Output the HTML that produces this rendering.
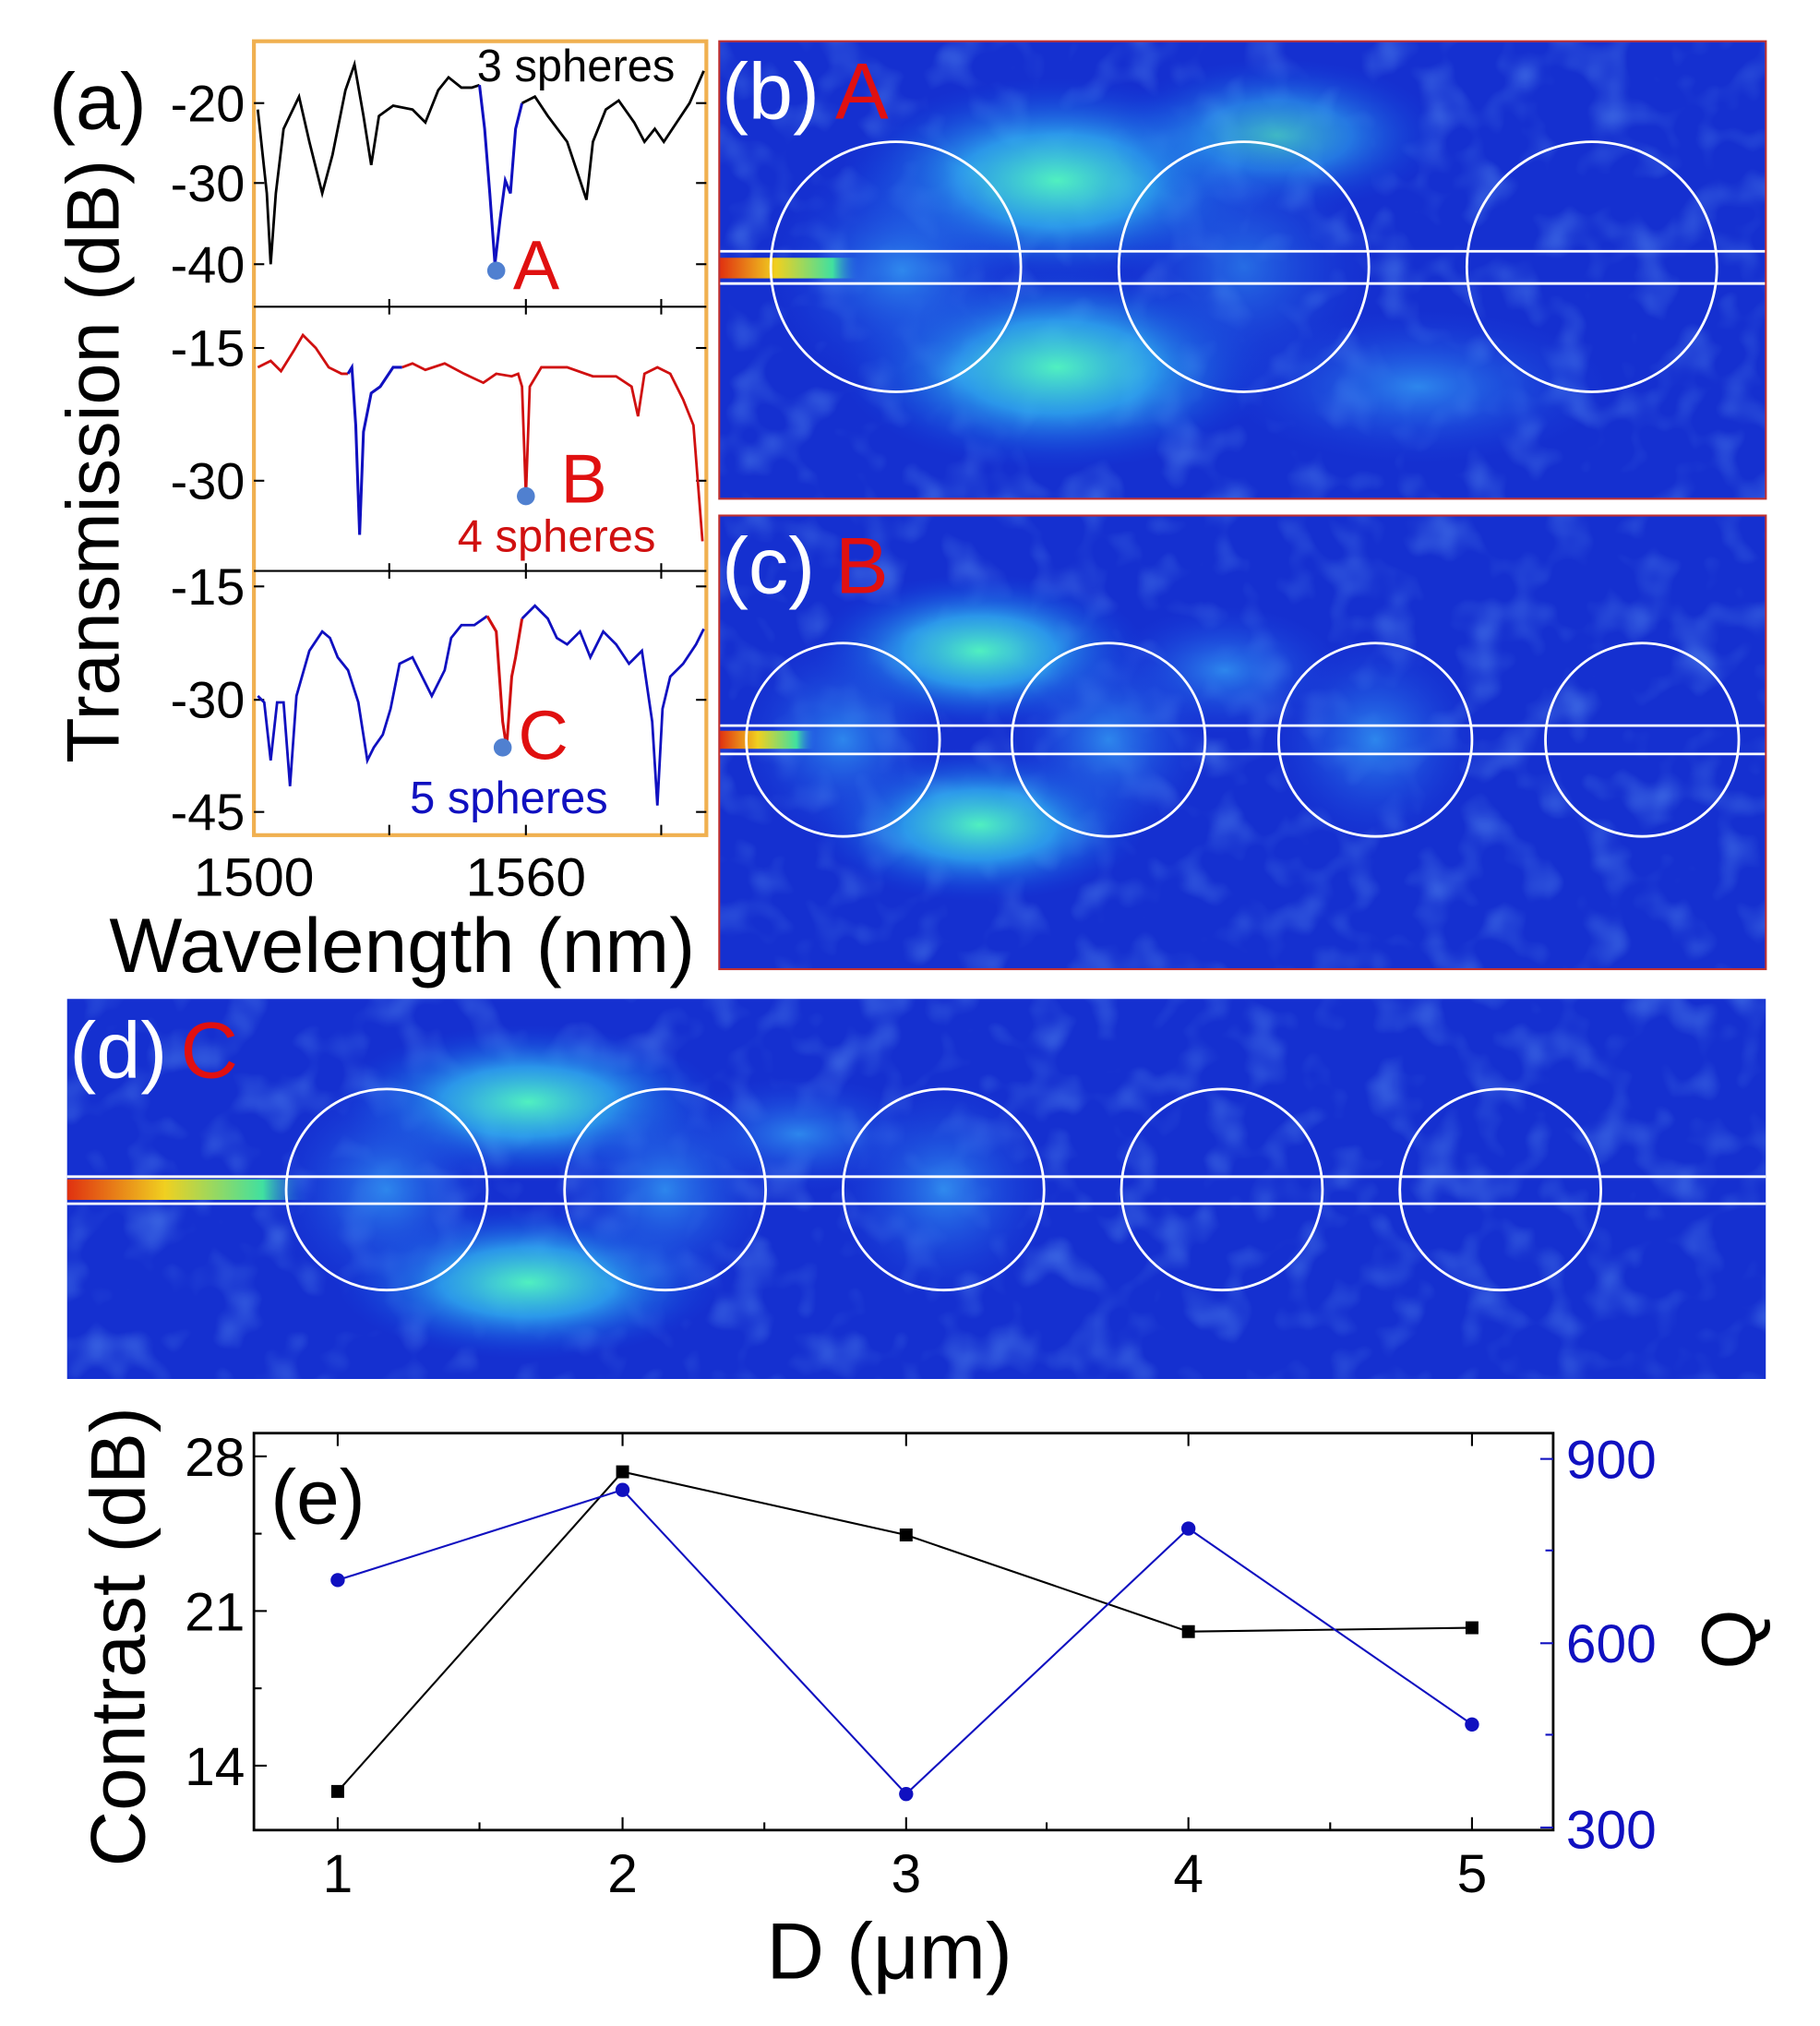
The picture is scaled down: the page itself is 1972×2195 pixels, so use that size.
<!DOCTYPE html>
<html><head><meta charset="utf-8"><style>html,body{margin:0;padding:0;background:#fff}svg{display:block}</style></head>
<body>
<svg width="1972" height="2195" viewBox="0 0 1412 1572" preserveAspectRatio="none" xmlns="http://www.w3.org/2000/svg" font-family="Liberation Sans, sans-serif">
<defs>
<radialGradient id="glow" cx="50%" cy="50%" r="50%"><stop offset="0" stop-color="#50f0c0" stop-opacity="1"/><stop offset="0.45" stop-color="#30b0f0" stop-opacity="0.8"/><stop offset="1" stop-color="#1040e0" stop-opacity="0"/></radialGradient>
<radialGradient id="glow2" cx="50%" cy="50%" r="50%"><stop offset="0" stop-color="#3090f0" stop-opacity="0.9"/><stop offset="1" stop-color="#1a40e0" stop-opacity="0"/></radialGradient>
<linearGradient id="beam" x1="0" x2="1"><stop offset="0" stop-color="#e03010"/><stop offset="0.4" stop-color="#f0d020"/><stop offset="0.8" stop-color="#40e0a0"/><stop offset="1" stop-color="#2060f0" stop-opacity="0"/></linearGradient>
<filter id="tex" x="0" y="0" width="100%" height="100%"><feTurbulence type="fractalNoise" baseFrequency="0.03" numOctaves="2" seed="3"/><feColorMatrix type="matrix" values="0 0 0 0 0.15  0 0 0 0 0.40  0 0 0 0 0.95  0 0 0 1.0 -0.5"/></filter>
<clipPath id="cb"><rect x="558" y="32" width="812" height="355"/></clipPath>
<clipPath id="cc"><rect x="558" y="400" width="812" height="352"/></clipPath>
<clipPath id="cd"><rect x="52" y="775" width="1318" height="295"/></clipPath>
</defs>

<!-- Panel (a) -->
<rect x="197" y="32" width="351" height="616" fill="#fff" stroke="#f0b050" stroke-width="3"/>
<line x1="197" y1="238" x2="548" y2="238" stroke="#000" stroke-width="1.5"/>
<line x1="197" y1="443" x2="548" y2="443" stroke="#000" stroke-width="1.5"/>
<g stroke="#000" stroke-width="1.5">
<line x1="197" y1="80" x2="205" y2="80"/><line x1="197" y1="142" x2="205" y2="142"/><line x1="197" y1="205" x2="205" y2="205"/>
<line x1="197" y1="270" x2="205" y2="270"/><line x1="197" y1="373" x2="205" y2="373"/>
<line x1="197" y1="455" x2="205" y2="455"/><line x1="197" y1="543" x2="205" y2="543"/><line x1="197" y1="630" x2="205" y2="630"/>
<line x1="540" y1="80" x2="548" y2="80"/><line x1="540" y1="142" x2="548" y2="142"/><line x1="540" y1="205" x2="548" y2="205"/>
<line x1="540" y1="270" x2="548" y2="270"/><line x1="540" y1="373" x2="548" y2="373"/>
<line x1="540" y1="455" x2="548" y2="455"/><line x1="540" y1="543" x2="548" y2="543"/><line x1="540" y1="630" x2="548" y2="630"/>
<line x1="302" y1="232" x2="302" y2="244"/><line x1="408" y1="232" x2="408" y2="244"/><line x1="513" y1="232" x2="513" y2="244"/>
<line x1="302" y1="437" x2="302" y2="449"/><line x1="408" y1="437" x2="408" y2="449"/><line x1="513" y1="437" x2="513" y2="449"/>
<line x1="302" y1="640" x2="302" y2="648"/><line x1="408" y1="640" x2="408" y2="648"/><line x1="513" y1="640" x2="513" y2="648"/>
</g>
<polyline fill="none" stroke="#000" stroke-width="2" points="200,85 207,150 210,205 214,150 220,100 232,75 240,110 250,150 258,120 268,70 275,50 282,90 288,128 294,90 305,82 320,85 330,95 340,70 348,60 358,68 366,68 372,66"/>
<polyline fill="none" stroke="#1010c0" stroke-width="2.2" points="372,66 376,100 380,150 384,205 388,170 392,140 396,150 400,100 405,80"/>
<polyline fill="none" stroke="#000" stroke-width="2" points="405,80 415,75 425,90 440,110 450,140 455,155 460,110 470,85 480,78 492,95 500,110 508,100 515,110 525,95 535,80 546,55"/>
<polyline fill="none" stroke="#d01010" stroke-width="2" points="200,285 210,280 218,288 228,272 235,260 245,270 255,285 265,290 270,290"/>
<polyline fill="none" stroke="#1010c0" stroke-width="2.2" points="270,290 273,285 276,330 279,415 282,335 288,305 295,300 305,285 312,285"/>
<polyline fill="none" stroke="#d01010" stroke-width="2" points="312,285 320,282 330,287 345,282 360,290 375,297 385,290 397,292 402,290 405,300 408,385 411,300 420,285 440,285 460,292 478,292 490,300 495,323 500,290 510,285 520,290 530,310 538,330 545,420"/>
<polyline fill="none" stroke="#1010c0" stroke-width="2" points="200,540 205,545 210,590 215,545 220,545 225,610 230,540 240,505 250,490 256,495 262,510 270,520 278,545 285,590 290,580 297,570 303,550 310,515 320,510 335,540 345,520 350,495 358,485 368,485 378,478"/>
<polyline fill="none" stroke="#d01010" stroke-width="2.2" points="378,478 385,490 390,560 393,580 397,525 400,510 405,480"/>
<polyline fill="none" stroke="#1010c0" stroke-width="2" points="405,480 415,470 425,480 432,495 440,500 450,490 458,510 468,490 478,500 488,515 498,505 506,560 510,625 514,550 520,525 530,515 540,500 546,488"/>
<circle cx="385" cy="210" r="7" fill="#5080d0"/><circle cx="408" cy="385" r="7" fill="#5080d0"/><circle cx="390" cy="580" r="7" fill="#5080d0"/>
<text x="398" y="224" font-size="54" fill="#e01010">A</text>
<text x="435" y="390" font-size="54" fill="#e01010">B</text>
<text x="402" y="589" font-size="54" fill="#e01010">C</text>
<text x="370" y="63" font-size="35" fill="#000">3 spheres</text>
<text x="355" y="428" font-size="35" fill="#d01010">4 spheres</text>
<text x="318" y="631" font-size="35" fill="#1010c0">5 spheres</text>
<g font-size="40" fill="#000" text-anchor="end">
<text x="190" y="94">-20</text><text x="190" y="156">-30</text><text x="190" y="219">-40</text>
<text x="190" y="284">-15</text><text x="190" y="387">-30</text>
<text x="190" y="469">-15</text><text x="190" y="557">-30</text><text x="190" y="644">-45</text>
</g>
<text x="38" y="100" font-size="62" fill="#000">(a)</text>
<text transform="translate(92,358) rotate(-90)" font-size="58" fill="#000" text-anchor="middle">Transmission (dB)</text>
<text x="197" y="695" font-size="42" text-anchor="middle">1500</text>
<text x="408" y="695" font-size="42" text-anchor="middle">1560</text>
<text x="312" y="754" font-size="60" text-anchor="middle">Wavelength (nm)</text>

<!-- Panel (b) -->
<g clip-path="url(#cb)">
<rect x="558" y="32" width="812" height="355" fill="#1530d0"/>
<rect x="558" y="32" width="812" height="355" filter="url(#tex)"/>
<ellipse cx="820" cy="140" rx="170" ry="80" fill="url(#glow)"/>
<ellipse cx="820" cy="285" rx="170" ry="80" fill="url(#glow)"/>
<ellipse cx="990" cy="105" rx="130" ry="60" fill="url(#glow)" opacity="0.7"/>
<ellipse cx="1100" cy="300" rx="150" ry="60" fill="url(#glow2)"/>
<ellipse cx="700" cy="210" rx="100" ry="90" fill="url(#glow2)"/>
<ellipse cx="965" cy="207" rx="100" ry="100" fill="url(#glow2)" opacity="0.7"/>
<rect x="558" y="200" width="110" height="16" fill="url(#beam)"/>
<g fill="none" stroke="#fff" stroke-width="2"><circle cx="695" cy="207" r="97"/><circle cx="965" cy="207" r="97"/><circle cx="1235" cy="207" r="97"/>
<line x1="558" y1="195" x2="1370" y2="195"/><line x1="558" y1="220" x2="1370" y2="220"/></g>
</g>
<rect x="558" y="32" width="812" height="355" fill="none" stroke="#c03030" stroke-width="1.5"/>
<text x="560" y="92" font-size="62" fill="#fff">(b)</text><text x="648" y="92" font-size="62" fill="#e01010">A</text>

<!-- Panel (c) -->
<g clip-path="url(#cc)">
<rect x="558" y="400" width="812" height="352" fill="#1530d0"/>
<rect x="558" y="400" width="812" height="352" filter="url(#tex)"/>
<ellipse cx="760" cy="505" rx="130" ry="60" fill="url(#glow)"/>
<ellipse cx="760" cy="640" rx="130" ry="60" fill="url(#glow)"/>
<ellipse cx="950" cy="520" rx="90" ry="50" fill="url(#glow2)"/>
<ellipse cx="860" cy="574" rx="80" ry="80" fill="url(#glow2)"/>
<ellipse cx="1067" cy="574" rx="80" ry="80" fill="url(#glow2)"/>
<ellipse cx="654" cy="574" rx="80" ry="80" fill="url(#glow2)"/>
<rect x="558" y="567" width="75" height="14" fill="url(#beam)"/>
<g fill="none" stroke="#fff" stroke-width="2"><circle cx="654" cy="574" r="75"/><circle cx="860" cy="574" r="75"/><circle cx="1067" cy="574" r="75"/><circle cx="1274" cy="574" r="75"/>
<line x1="558" y1="563" x2="1370" y2="563"/><line x1="558" y1="585" x2="1370" y2="585"/></g>
</g>
<rect x="558" y="400" width="812" height="352" fill="none" stroke="#c03030" stroke-width="1.5"/>
<text x="560" y="460" font-size="62" fill="#fff">(c)</text><text x="648" y="460" font-size="62" fill="#e01010">B</text>

<!-- Panel (d) -->
<g clip-path="url(#cd)">
<rect x="52" y="775" width="1318" height="295" fill="#1530d0"/>
<rect x="52" y="775" width="1318" height="295" filter="url(#tex)"/>
<ellipse cx="410" cy="855" rx="150" ry="60" fill="url(#glow)"/>
<ellipse cx="410" cy="995" rx="150" ry="60" fill="url(#glow)"/>
<ellipse cx="620" cy="880" rx="100" ry="45" fill="url(#glow2)"/>
<ellipse cx="300" cy="923" rx="85" ry="85" fill="url(#glow2)"/>
<ellipse cx="516" cy="923" rx="85" ry="85" fill="url(#glow2)"/>
<ellipse cx="732" cy="923" rx="85" ry="85" fill="url(#glow2)"/>
<rect x="52" y="915" width="190" height="16" fill="url(#beam)"/>
<g fill="none" stroke="#fff" stroke-width="2"><circle cx="300" cy="923" r="78"/><circle cx="516" cy="923" r="78"/><circle cx="732" cy="923" r="78"/><circle cx="948" cy="923" r="78"/><circle cx="1164" cy="923" r="78"/>
<line x1="52" y1="913" x2="1370" y2="913"/><line x1="52" y1="934" x2="1370" y2="934"/></g>
</g>
<text x="54" y="836" font-size="62" fill="#fff">(d)</text><text x="140" y="836" font-size="62" fill="#e01010">C</text>

<!-- Panel (e) -->
<rect x="197" y="1112" width="1008" height="308" fill="#fff" stroke="#000" stroke-width="2"/>
<g stroke="#000" stroke-width="1.5">
<line x1="262" y1="1420" x2="262" y2="1410"/><line x1="483" y1="1420" x2="483" y2="1410"/><line x1="703" y1="1420" x2="703" y2="1410"/><line x1="922" y1="1420" x2="922" y2="1410"/><line x1="1142" y1="1420" x2="1142" y2="1410"/>
<line x1="372" y1="1420" x2="372" y2="1414"/><line x1="593" y1="1420" x2="593" y2="1414"/><line x1="812" y1="1420" x2="812" y2="1414"/><line x1="1032" y1="1420" x2="1032" y2="1414"/>
<line x1="262" y1="1112" x2="262" y2="1122"/><line x1="483" y1="1112" x2="483" y2="1122"/><line x1="703" y1="1112" x2="703" y2="1122"/><line x1="922" y1="1112" x2="922" y2="1122"/><line x1="1142" y1="1112" x2="1142" y2="1122"/>
<line x1="197" y1="1130" x2="207" y2="1130"/><line x1="197" y1="1250" x2="207" y2="1250"/><line x1="197" y1="1370" x2="207" y2="1370"/>
<line x1="197" y1="1190" x2="203" y2="1190"/><line x1="197" y1="1310" x2="203" y2="1310"/>
</g>
<g stroke="#1010c0" stroke-width="1.5">
<line x1="1205" y1="1132" x2="1195" y2="1132"/><line x1="1205" y1="1275" x2="1195" y2="1275"/><line x1="1205" y1="1418" x2="1195" y2="1418"/>
<line x1="1205" y1="1203" x2="1199" y2="1203"/><line x1="1205" y1="1346" x2="1199" y2="1346"/>
</g>
<polyline fill="none" stroke="#000" stroke-width="1.5" points="262,1390 483,1142 703,1191 922,1266 1142,1263"/>
<g fill="#000"><rect x="257" y="1385" width="10" height="10"/><rect x="478" y="1137" width="10" height="10"/><rect x="698" y="1186" width="10" height="10"/><rect x="917" y="1261" width="10" height="10"/><rect x="1137" y="1258" width="10" height="10"/></g>
<polyline fill="none" stroke="#1010c0" stroke-width="1.5" points="262,1226 483,1156 703,1392 922,1186 1142,1338"/>
<g fill="#1010c0"><circle cx="262" cy="1226" r="5.5"/><circle cx="483" cy="1156" r="5.5"/><circle cx="703" cy="1392" r="5.5"/><circle cx="922" cy="1186" r="5.5"/><circle cx="1142" cy="1338" r="5.5"/></g>
<text x="210" y="1182" font-size="60">(e)</text>
<g font-size="42" text-anchor="end"><text x="190" y="1145">28</text><text x="190" y="1265">21</text><text x="190" y="1385">14</text></g>
<g font-size="42" fill="#1010c0"><text x="1215" y="1147">900</text><text x="1215" y="1290">600</text><text x="1215" y="1434">300</text></g>
<g font-size="42" text-anchor="middle"><text x="262" y="1468">1</text><text x="483" y="1468">2</text><text x="703" y="1468">3</text><text x="922" y="1468">4</text><text x="1142" y="1468">5</text></g>
<text x="690" y="1535" font-size="62" text-anchor="middle">D (μm)</text>
<text transform="translate(112,1270) rotate(-90)" font-size="60" text-anchor="middle">Contrast (dB)</text>
<text transform="translate(1362,1272) rotate(-90)" font-size="60" text-anchor="middle">Q</text>
</svg>
</body></html>
